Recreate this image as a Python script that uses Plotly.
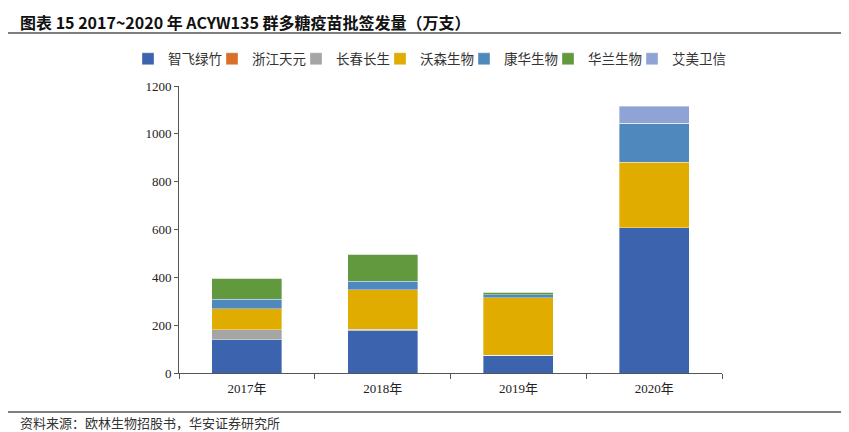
import plotly.graph_objects as go

years = ["2017年", "2018年", "2019年", "2020年"]
companies = ["智飞绿竹", "浙江天元", "长春长生", "沃森生物", "康华生物", "华兰生物", "艾美卫信"]
zhifei = [140, 177, 75, 608]
tianyuan = [0, 0, 0, 0]
changchun = [40, 6, 0, 0]
wosen = [88, 165, 239, 273]
kanghua = [40, 35, 13, 164]
hualan = [88, 114, 11, 0]
aimei = [0, 0, 0, 71]
series = [zhifei, tianyuan, changchun, wosen, kanghua, hualan, aimei]
colors = ["#3c64ae", "#d8702a", "#a5a5a5", "#e0ac00", "#4f88bc", "#62993e", "#8fa4d5"]
yticks = [0, 200, 400, 600, 800, 1000, 1200]

# page body has an 8px margin, so the figure is offset by (8, 8)
OFF = 8
W, H = 849 - OFF, 432 - OFF
L, R, T, B = 179 - OFF, 722 - OFF, 86 - OFF, 373 - OFF

def px(x):
    return (x - OFF - L) / (R - L)

def py(y):
    return (B - (y - OFF)) / (B - T)

fig = go.Figure()
for name, vals, c in zip(companies, series, colors):
    fig.add_trace(go.Bar(
        x=years, y=vals, name=name,
        marker=dict(color=c, line=dict(color="rgba(255,255,255,0.6)", width=0.6)),
    ))
# invisible spacer entry so the last legend label is not clipped
fig.add_trace(go.Scatter(x=[None], y=[None], mode="markers", name="",
                         marker=dict(color="rgba(0,0,0,0)", size=1, opacity=0,
                                     line=dict(width=0, color="rgba(0,0,0,0)")),
                         hoverinfo="skip", showlegend=True))

fig.update_layout(
    barmode="stack",
    bargap=0.485,
    width=W, height=H,
    margin=dict(l=L, r=W - R, t=T, b=H - B, pad=0, autoexpand=False),
    paper_bgcolor="white",
    plot_bgcolor="white",
    font=dict(family="Liberation Serif, Noto Sans CJK SC", size=13, color="#222222"),
    showlegend=True,
    legend=dict(
        orientation="h", x=px(128), xanchor="left", y=py(59), yanchor="middle",
        font=dict(family="Noto Sans CJK SC", size=13.5, color="#333333"),
        entrywidth=39, entrywidthmode="pixels", itemwidth=30,
        traceorder="normal", tracegroupgap=0,
    ),
    xaxis=dict(
        type="category", showline=True, linecolor="#555555", linewidth=1,
        ticks="outside", tickson="boundaries", ticklen=5, tickcolor="#555555",
        ticklabelstandoff=3,
        tickfont=dict(family="Liberation Serif, Noto Sans CJK SC", size=13, color="#222222"),
        showgrid=False,
    ),
    yaxis=dict(
        range=[0, 1200], tickvals=yticks, showline=True, linecolor="#555555", linewidth=1,
        ticks="outside", ticklen=4, tickcolor="#555555", showgrid=False, zeroline=False,
        tickfont=dict(family="Liberation Serif", size=13, color="#222222"),
    ),
    shapes=[
        dict(type="line", xref="paper", yref="paper", x0=px(8), x1=px(849), y0=py(33), y1=py(33),
             line=dict(color="#555555", width=1.5)),
        dict(type="line", xref="paper", yref="paper", x0=px(8), x1=px(849), y0=py(412), y1=py(412),
             line=dict(color="#555555", width=1.5)),
    ],
    annotations=[
        dict(text="<b>图表 15 2017~2020 年 ACYW135 群多糖疫苗批签发量（万支）</b>", xref="paper", yref="paper",
             x=px(18), y=py(22), xanchor="left", yanchor="middle", showarrow=False,
             font=dict(family="Noto Sans CJK SC", size=16, color="#111111")),
        dict(text="资料来源：欧林生物招股书，华安证券研究所", xref="paper", yref="paper",
             x=px(18), y=py(422), xanchor="left", yanchor="middle", showarrow=False,
             font=dict(family="Noto Sans CJK SC", size=13, color="#333333")),
    ],
)

fig.write_html("out.html")
